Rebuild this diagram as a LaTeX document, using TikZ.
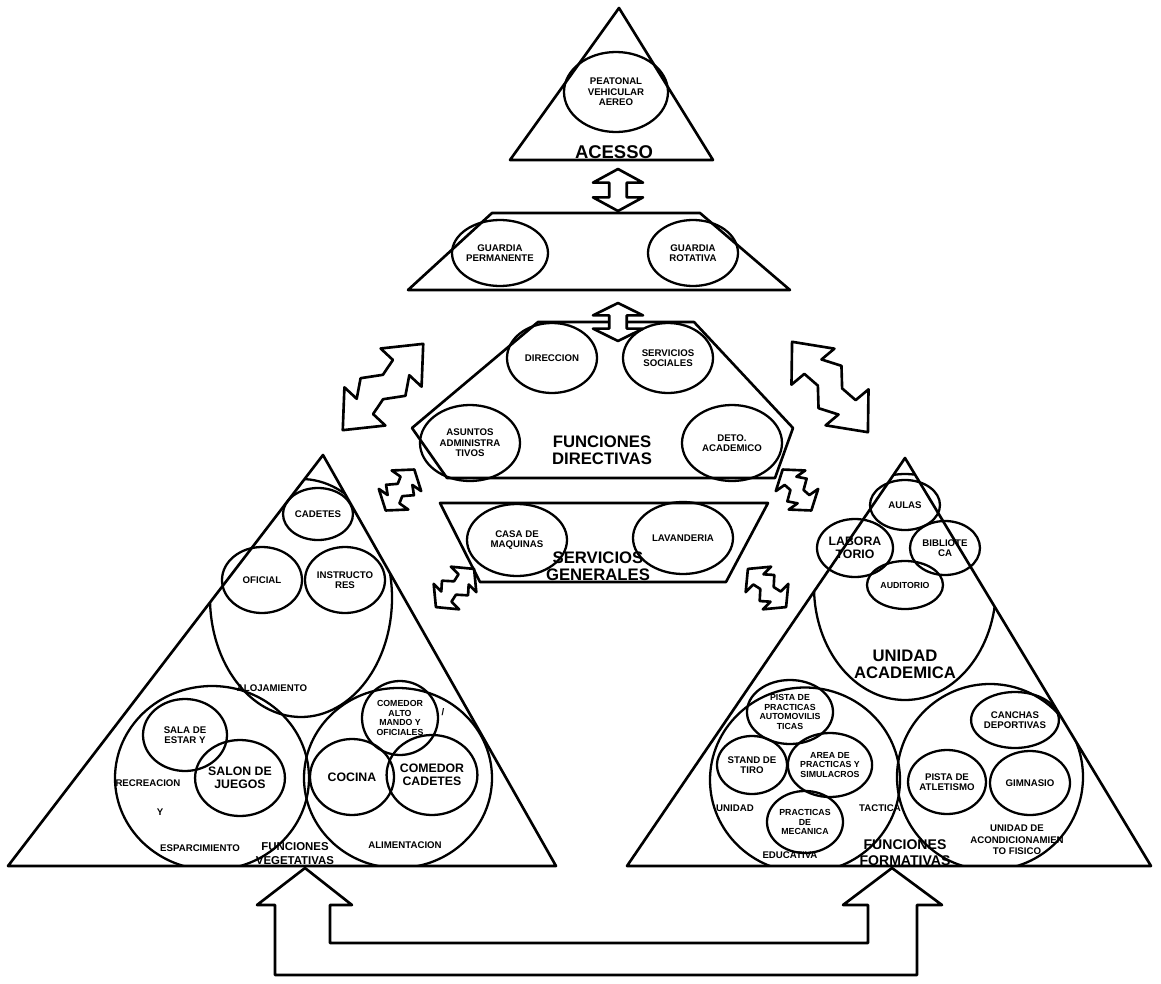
\documentclass[tikz,border=0pt]{standalone}
\usepackage{fontspec}
\setmainfont{Liberation Sans}
\usetikzlibrary{shapes.geometric}

\begin{document}
\begin{tikzpicture}[
        x=0.02cm, y=-0.02cm,
        ell/.style 2 args={ellipse, draw=black, line width=1.3pt, inner sep=0pt, minimum width=#1*0.02cm, minimum height=#2*0.02cm, align=center, font=\fontsize{5.5}{6}\selectfont\bfseries},
        ring/.style 2 args={ellipse, draw=black, line width=1.3pt, inner sep=0pt, minimum width=#1*0.02cm, minimum height=#2*0.02cm},
        lbl/.style={align=center, inner sep=0pt, font=\fontsize{5.5}{6.5}\selectfont\bfseries},
        midfont/.style={font=\fontsize{7}{7.5}\selectfont\bfseries},
        tinyfont/.style={font=\fontsize{5}{5.5}\selectfont\bfseries},
        biglbl/.style={align=center, inner sep=0pt, font=\fontsize{9.5}{9.5}\selectfont\bfseries},
        outline/.style={draw=black, line width=1.5pt, line join=round},
        blockarrow/.style={draw=black, line width=1.5pt, fill=white, line join=round}
    ]
        \useasboundingbox (0,0) rectangle (1161,984);

        % Acceso
        \draw[outline] (619,8) -- (510,160) -- (713,160) -- cycle;
        \node[ell={104}{80}] (acc) at (616,92) {PEATONAL\\VEHICULAR\\AEREO};
        \node[biglbl, font=\fontsize{10.5}{10.5}\selectfont\bfseries, anchor=base] (acct) at (614,158) {ACESSO};

        % Guardia
        \draw[outline] (492,213) -- (700,213) -- (790,290) -- (408,290) -- cycle;
        \node[ell={96}{66}] (gperm) at (500,253) {GUARDIA\\PERMANENTE};
        \node[ell={90}{66}] (grot) at (693,253) {GUARDIA\\ROTATIVA};

        % Funciones directivas
        \draw[outline] (538,322) -- (694,322) -- (793,428) -- (775,478) -- (447,478) -- (412,428) -- cycle;
        \node[ell={90}{70}] (dir) at (552,358) {DIRECCION};
        \node[ell={90}{70}] (soc) at (668,358) {SERVICIOS\\SOCIALES};
        \node[ell={100}{76}] (adm) at (470,443) {ASUNTOS\\ADMINISTRA\\TIVOS};
        \node[ell={100}{76}] (deto) at (732,443) {DETO.\\ACADEMICO};
        \node[biglbl] (fdir) at (602,450) {FUNCIONES\\DIRECTIVAS};

        % Servicios generales
        \draw[outline] (440,503) -- (768,503) -- (726,582) -- (480,582) -- cycle;
        \node[ell={100}{72}] (maq) at (517,540) {CASA DE\\MAQUINAS};
        \node[ell={100}{72}] (lav) at (683,538) {LAVANDERIA};
        \node[biglbl, anchor=base] (sgen) at (598,580) {SERVICIOS\\GENERALES};

        % Funciones vegetativas
        \draw[outline] (323,455) -- (8,866) -- (556,866) -- cycle;
        \begin{scope}
            \clip (323,455) -- (8,866) -- (556,866) -- cycle;
            \node[ring={182}{238}] (aloj) at (301,598) {};
            \node[ring={194}{184}] (recr) at (212,778) {};
            \node[ring={188}{180}] (alim) at (398,778) {};
        \end{scope}
        \node[ell={70}{52}] (cad) at (318,514) {CADETES};
        \node[ell={80}{66}] (ofi) at (262,580) {OFICIAL};
        \node[ell={80}{66}] (ins) at (345,580) {INSTRUCTO\\RES};
        \node[lbl] (alojt) at (272,688) {ALOJAMIENTO};
        \node[ell={84}{72}] (sala) at (185,735) {SALA DE\\ESTAR Y};
        \node[ell={86}{76}, midfont] (salon) at (240,778) {SALON DE\\JUEGOS};
        \node[lbl] (recrt) at (148,783) {RECREACION};
        \node[lbl] (yt) at (160,812) {Y};
        \node[lbl] (espt) at (200,848) {ESPARCIMIENTO};
        \node[ell={76}{74}, tinyfont] (comalt) at (400,718) {COMEDOR\\ALTO\\MANDO Y\\OFICIALES};
        \node[lbl] (slash) at (443,712) {/};
        \node[ell={84}{76}, midfont] (coc) at (352,777) {COCINA};
        \node[ell={90}{80}, midfont] (comcad) at (432,775) {COMEDOR\\CADETES};
        \node[lbl] (alimt) at (405,845) {ALIMENTACION};
        \node[lbl, font=\fontsize{6.5}{7.5}\selectfont\bfseries, anchor=base] (fveg) at (295,864) {FUNCIONES\\VEGETATIVAS};

        % Funciones formativas
        \draw[outline] (905,458) -- (627,866) -- (1151,866) -- cycle;
        \begin{scope}
            \clip (905,458) -- (627,866) -- (1151,866) -- cycle;
            \node[ring={182}{226}] (acad) at (905,587) {};
            \node[ring={190}{185}] (edu) at (805,780) {};
            \node[ring={186}{186}] (fis) at (990,777) {};
        \end{scope}
        \node[ell={70}{50}] (aulas) at (905,505) {AULAS};
        \node[ell={76}{58}, midfont] (lab) at (855,548) {LABORA\\TORIO};
        \node[ell={70}{54}] (bib) at (945,548) {BIBLIOTE\\CA};
        \node[ell={76}{48}, tinyfont] (aud) at (905,585) {AUDITORIO};
        \node[biglbl] (acadt) at (905,664) {UNIDAD\\ACADEMICA};
        \node[ell={84}{64}, tinyfont] (pista) at (790,712) {PISTA DE\\PRACTICAS\\AUTOMOVILIS\\TICAS};
        \node[ell={70}{58}] (stand) at (752,765) {STAND DE\\TIRO};
        \node[ell={84}{64}, tinyfont] (area) at (830,765) {AREA DE\\PRACTICAS Y\\SIMULACROS};
        \node[ell={76}{62}, tinyfont] (mec) at (805,822) {PRACTICAS\\DE\\MECANICA};
        \node[lbl] (unit) at (735,808) {UNIDAD};
        \node[lbl] (tact) at (880,808) {TACTICA};
        \node[lbl] (edut) at (790,855) {EDUCATIVA};
        \node[ell={84}{56}] (canch) at (1015,720) {CANCHAS\\DEPORTIVAS};
        \node[ell={74}{64}] (atl) at (947,782) {PISTA DE\\ATLETISMO};
        \node[ell={80}{64}] (gim) at (1030,783) {GIMNASIO};
        \node[lbl] (fist) at (1017,840) {UNIDAD DE\\ACONDICIONAMIEN\\TO FISICO};
        \node[lbl, font=\fontsize{8}{9}\selectfont\bfseries, anchor=base] (fform) at (905,865) {FUNCIONES\\FORMATIVAS};

        % Flechas dobles
        \foreach \cx/\cy/\ang/\len/\wid in {618/190/90/21/25, 618/322/90/19/25}
            \draw[blockarrow, shift={(\cx,\cy)}, rotate=\ang, xscale=\len, yscale=\wid]
                (1,0) -- (0.35,1) -- (0.35,0.35) -- (-0.35,0.35) -- (-0.35,1) -- (-1,0)
                -- (-0.35,-1) -- (-0.35,-0.35) -- (0.35,-0.35) -- (0.35,-1) -- cycle;
        \foreach \cx/\cy/\ang/\len/\wid in {383/387/47/59/28, 830/387/-50/59/28, 400/490/55/25/18, 455/588/45/27/18, 797/490/125/25/18, 767/588/135/27/18}
            \draw[blockarrow, shift={(\cx,\cy)}, rotate=\ang, xscale=\len, yscale=\wid]
                (1,0) -- (0.45,1) -- (0.45,0.4) -- (0.15,0.8) -- (-0.15,0.3) -- (-0.45,0.4) -- (-0.45,1) -- (-1,0)
                -- (-0.45,-1) -- (-0.45,-0.4) -- (-0.15,-0.8) -- (0.15,-0.3) -- (0.45,-0.4) -- (0.45,-1) -- cycle;

        % Retorno inferior
        \draw[blockarrow] (275,905) -- (257,905) -- (305,868) -- (352,905) -- (330,905) -- (330,943)
            -- (868,943) -- (868,905) -- (843,905) -- (892,868) -- (942,905) -- (917,905) -- (917,975) -- (275,975) -- cycle;
    \end{tikzpicture}
\end{document}
